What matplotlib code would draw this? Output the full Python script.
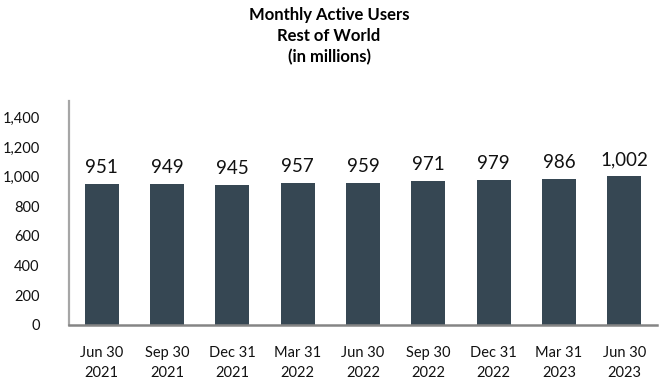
import numpy as np
import matplotlib.pyplot as plt

quarters = ["Jun 30\n2021", "Sep 30\n2021", "Dec 31\n2021", "Mar 31\n2022", "Jun 30\n2022",
            "Sep 30\n2022", "Dec 31\n2022", "Mar 31\n2023", "Jun 30\n2023"]
mau = [951, 949, 945, 957, 959, 971, 979, 986, 1002]
yticks = [0, 200, 400, 600, 800, 1000, 1200, 1400]

plt.rcParams['font.family'] = ['Lato', 'DejaVu Sans']

fig = plt.figure(figsize=(6.6, 3.8), dpi=100)
ax = fig.add_axes([0.1045, 0.145, 0.891, 0.589])

x = np.arange(len(mau))
bars = ax.bar(x, mau, width=0.52, color='#364753', zorder=2)
for xi, v in zip(x, mau):
    ax.text(xi, v + 55, f"{v:,}", ha='center', va='bottom', fontsize=13.5, color='#111111')

ax.set_xlim(-0.5, len(mau) - 0.5)
ax.set_ylim(0, 1510)
ax.set_yticks(yticks)
ax.set_yticklabels([f"{t:,}" for t in yticks])
ax.set_xticks(x)
ax.set_xticklabels(quarters, linespacing=1.53)
ax.tick_params(axis='both', length=0, labelsize=10.5, colors='#111111')
ax.tick_params(axis='y', pad=21)
ax.tick_params(axis='x', pad=15)

ax.spines['top'].set_visible(False)
ax.spines['right'].set_visible(False)
ax.spines['left'].set_color('#a6a6a6')
ax.spines['left'].set_linewidth(1.6)
ax.spines['bottom'].set_color('#858585')
ax.spines['bottom'].set_linewidth(1.8)

fig.text(0.4985, 0.982, "Monthly Active Users\nRest of World\n(in millions)", ha='center', va='top',
         fontsize=12, fontweight='bold', linespacing=1.37)

fig.savefig("out.png", dpi=100)
